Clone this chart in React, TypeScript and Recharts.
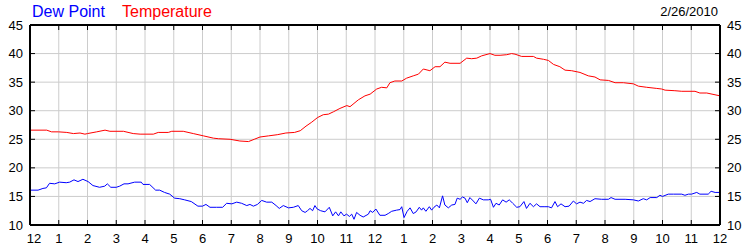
import { LineChart, Line, XAxis, YAxis, CartesianGrid } from 'recharts';

const hourTicks = [0, 1, 2, 3, 4, 5, 6, 7, 8, 9, 10, 11, 12, 13, 14, 15, 16, 17, 18, 19, 20, 21, 22, 23, 24];
const hourLabels = ['12', '1', '2', '3', '4', '5', '6', '7', '8', '9', '10', '11', '12', '1', '2', '3', '4', '5', '6', '7', '8', '9', '10', '11', '12'];
const degreeTicks = [10, 15, 20, 25, 30, 35, 40, 45];

const dewHours = [
  0, 0.28, 0.45, 0.57, 0.68, 0.86, 1.03, 1.26, 1.38, 1.53, 1.67, 1.84, 2.02, 2.19, 2.42, 2.6, 2.69, 2.81, 3.0, 3.12,
  3.27, 3.41, 3.64, 3.87, 3.93, 4.16, 4.37, 4.51, 4.68, 4.86, 5.03, 5.21, 5.38, 5.61, 5.84, 6.0, 6.12, 6.26, 6.49, 6.7,
  6.84, 7.02, 7.19, 7.36, 7.54, 7.65, 7.77, 7.91, 8.06, 8.23, 8.41, 8.56, 8.67, 8.81, 8.99, 9.16, 9.33, 9.45, 9.57, 9.65,
  9.74, 9.83, 9.91, 9.99, 10.11, 10.26, 10.41, 10.53, 10.63, 10.73, 10.81, 10.92, 11.01, 11.11, 11.19, 11.27, 11.36, 11.48, 11.59, 11.77,
  11.83, 11.92, 12.03, 12.17, 12.35, 12.46, 12.58, 12.75, 12.87, 12.93, 13.01, 13.12, 13.22, 13.33, 13.43, 13.54, 13.62, 13.68, 13.77, 13.89,
  13.97, 14.05, 14.15, 14.24, 14.35, 14.43, 14.55, 14.67, 14.78, 14.86, 14.96, 15.04, 15.13, 15.21, 15.3, 15.42, 15.51, 15.63, 15.77, 15.94,
  16.02, 16.12, 16.21, 16.32, 16.44, 16.56, 16.67, 16.79, 16.93, 17.04, 17.18, 17.27, 17.39, 17.51, 17.62, 17.74, 17.91, 18.03, 18.14, 18.26,
  18.35, 18.47, 18.61, 18.75, 18.9, 19.01, 19.13, 19.25, 19.36, 19.48, 19.65, 19.88, 20.12, 20.21, 20.35, 20.7, 20.99, 21.16, 21.33, 21.45,
  21.57, 21.8, 21.91, 22.0, 22.2, 22.38, 22.67, 22.78, 22.9, 23.01, 23.19, 23.3, 23.59, 23.69, 23.83, 24,
];
const dewPoints = [
  16.1, 16.1, 16.4, 16.5, 17.3, 17.2, 17.5, 17.4, 17.5, 17.9, 17.6, 18.0, 17.6, 16.9, 16.6, 16.8, 17.2, 16.6, 16.6, 16.8,
  17.2, 17.2, 17.5, 17.5, 17.1, 17.1, 16.1, 16.1, 15.7, 15.4, 14.7, 14.6, 14.4, 14.1, 13.3, 13.3, 13.6, 13.1, 13.1, 13.1,
  13.8, 13.7, 14.0, 13.8, 13.4, 13.6, 13.3, 13.6, 14.3, 14.0, 14.0, 13.4, 12.9, 13.4, 13.0, 13.1, 13.4, 12.5, 12.2, 12.5,
  12.9, 12.5, 13.4, 12.8, 12.5, 12.3, 13.1, 11.6, 12.3, 11.6, 12.3, 11.6, 11.9, 11.5, 11.9, 11.0, 12.2, 11.7, 11.4, 11.9,
  12.5, 12.2, 12.8, 11.7, 11.7, 12.0, 12.4, 12.6, 12.7, 13.2, 11.3, 12.4, 13.0, 12.0, 12.3, 13.1, 12.6, 13.0, 12.4, 13.2,
  12.6, 13.1, 13.5, 13.0, 15.1, 13.5, 13.0, 13.5, 13.6, 14.7, 14.5, 14.9, 14.7, 13.9, 14.8, 14.2, 13.7, 14.7, 14.4, 14.4,
  14.5, 13.1, 13.8, 13.5, 14.4, 14.0, 14.4, 13.8, 13.1, 13.2, 14.1, 12.9, 13.8, 13.2, 13.7, 13.2, 13.2, 13.2, 13.0, 14.1,
  13.2, 13.7, 13.2, 13.3, 14.2, 13.7, 14.0, 13.8, 14.3, 14.1, 14.6, 14.5, 14.5, 14.8, 14.5, 14.5, 14.4, 14.2, 14.6, 14.4,
  14.8, 14.8, 15.2, 15.0, 15.4, 15.4, 15.4, 15.2, 15.4, 15.4, 15.7, 15.4, 15.4, 15.9, 15.7, 15.7,
];

const tempHours = [
  0, 0.58, 0.75, 0.99, 1.28, 1.51, 1.74, 1.91, 2.0, 2.32, 2.61, 2.78, 3.25, 3.59, 3.83, 4.29, 4.46, 4.81, 4.93, 5.33,
  5.68, 6.03, 6.38, 6.55, 6.96, 7.3, 7.6, 7.8, 8.0, 8.3, 8.6, 8.9, 9.2, 9.4, 9.6, 9.8, 10.0, 10.2, 10.38, 10.55,
  10.78, 11.02, 11.13, 11.42, 11.65, 11.83, 12.06, 12.23, 12.41, 12.52, 12.69, 12.93, 13.1, 13.33, 13.51, 13.68, 13.91, 14.09, 14.26, 14.43,
  14.61, 14.96, 15.19, 15.36, 15.54, 15.71, 16.0, 16.17, 16.35, 16.58, 16.75, 16.87, 17.1, 17.51, 17.62, 17.86, 18.03, 18.21, 18.43, 18.61,
  18.84, 19.13, 19.42, 19.65, 19.83, 20.12, 20.35, 20.64, 20.99, 21.16, 21.45, 21.8, 21.97, 22.09, 22.43, 22.67, 23.13, 23.3, 23.54, 24,
];
const temperatures = [
  26.6, 26.6, 26.3, 26.3, 26.2, 26.0, 26.1, 25.9, 26.0, 26.3, 26.6, 26.4, 26.4, 26.0, 25.9, 25.9, 26.2, 26.2, 26.4, 26.4,
  26.0, 25.6, 25.2, 25.1, 25.0, 24.7, 24.6, 25.0, 25.4, 25.6, 25.8, 26.1, 26.2, 26.5, 27.3, 28.0, 28.8, 29.3, 29.4, 29.8,
  30.4, 30.9, 30.7, 31.9, 32.6, 32.9, 33.8, 34.1, 34.0, 34.9, 35.2, 35.2, 35.7, 36.1, 36.4, 37.3, 37.0, 37.7, 37.7, 38.5,
  38.3, 38.3, 39.2, 39.1, 39.2, 39.6, 40.0, 39.7, 39.7, 39.8, 40.0, 39.9, 39.5, 39.5, 39.2, 39.0, 38.8, 38.1, 37.7, 37.1,
  37.0, 36.7, 36.1, 35.9, 35.4, 35.3, 34.9, 34.9, 34.7, 34.3, 34.1, 33.9, 33.8, 33.6, 33.5, 33.4, 33.4, 33.1, 33.1, 32.6,
];

const dewData = dewHours.map((h, i) => ({ h, v: dewPoints[i] }));
const tempData = tempHours.map((h, i) => ({ h, v: temperatures[i] }));

const FONT = '"Liberation Sans", Arial, sans-serif';

const BottomTick = (props: any) => {
  const { x, y, payload, index } = props;
  const shift = index === 0 ? 4 : 0;
  return (
    <g>
      <line x1={x} x2={x} y1={y} y2={y - 5} stroke="#000" />
      <text x={x + shift} y={y + 17.5} textAnchor="middle" fontSize={13} fontFamily={FONT} fill="#000">
        {hourLabels[hourTicks.indexOf(payload.value)]}
      </text>
    </g>
  );
};

const TopTick = (props: any) => {
  const { x, y } = props;
  return <line x1={x} x2={x} y1={y} y2={y + 5} stroke="#000" />;
};

const LeftTick = (props: any) => {
  const { x, y, payload } = props;
  return (
    <g>
      <line x1={x} x2={x + 5} y1={y} y2={y} stroke="#000" />
      <text x={x - 7} y={y + 4.5} textAnchor="end" fontSize={13} fontFamily={FONT} fill="#000">
        {payload.value}
      </text>
    </g>
  );
};

const RightTick = (props: any) => {
  const { x, y, payload } = props;
  return (
    <g>
      <line x1={x} x2={x - 5} y1={y} y2={y} stroke="#000" />
      <text x={x + 7} y={y + 4.5} textAnchor="start" fontSize={13} fontFamily={FONT} fill="#000">
        {payload.value}
      </text>
    </g>
  );
};

export default function App() {
  return (
    <div style={{ position: 'absolute', left: 0, top: 0, width: 750, height: 250, background: '#fff', fontFamily: FONT }}>
      <div style={{ position: 'absolute', left: 32, top: 3, fontSize: 16, lineHeight: '18px', color: '#0000ff' }}>Dew Point</div>
      <div style={{ position: 'absolute', left: 122, top: 3, fontSize: 16, lineHeight: '18px', color: '#ff0000' }}>Temperature</div>
      <div style={{ position: 'absolute', right: 32, top: 4, fontSize: 13, lineHeight: '16px', color: '#000' }}>2/26/2010</div>
      <LineChart width={750} height={250} margin={{ top: 5, right: 0, bottom: 0, left: 0 }}>
        <CartesianGrid xAxisId="bottom" yAxisId="left" stroke="#cccccc" />
        <XAxis
          xAxisId="bottom"
          dataKey="h"
          type="number"
          domain={[0, 24]}
          ticks={hourTicks}
          allowDataOverflow
          height={25}
          tickSize={0}
          tickMargin={0}
          tickLine={false}
          axisLine={{ stroke: '#000', strokeWidth: 2 }}
          tick={<BottomTick />}
          interval={0}
        />
        <XAxis
          xAxisId="top"
          orientation="top"
          dataKey="h"
          type="number"
          domain={[0, 24]}
          ticks={hourTicks}
          allowDataOverflow
          height={20}
          tickSize={0}
          tickMargin={0}
          tickLine={false}
          axisLine={{ stroke: '#000', strokeWidth: 2 }}
          tick={<TopTick />}
          interval={0}
        />
        <YAxis
          yAxisId="left"
          type="number"
          domain={[10, 45]}
          ticks={degreeTicks}
          allowDataOverflow
          width={30}
          tickSize={0}
          tickMargin={0}
          tickLine={false}
          axisLine={{ stroke: '#000', strokeWidth: 2 }}
          tick={<LeftTick />}
          interval={0}
        />
        <YAxis
          yAxisId="right"
          orientation="right"
          type="number"
          domain={[10, 45]}
          ticks={degreeTicks}
          allowDataOverflow
          width={30}
          tickSize={0}
          tickMargin={0}
          tickLine={false}
          axisLine={{ stroke: '#000', strokeWidth: 2 }}
          tick={<RightTick />}
          interval={0}
        />
        <Line
          xAxisId="bottom"
          yAxisId="left"
          data={tempData}
          dataKey="v"
          type="linear"
          stroke="#ff0000"
          strokeWidth={1}
          dot={false}
          isAnimationActive={false}
        />
        <Line
          xAxisId="bottom"
          yAxisId="left"
          data={dewData}
          dataKey="v"
          type="linear"
          stroke="#0000ff"
          strokeWidth={1}
          dot={false}
          isAnimationActive={false}
        />
      </LineChart>
    </div>
  );
}
